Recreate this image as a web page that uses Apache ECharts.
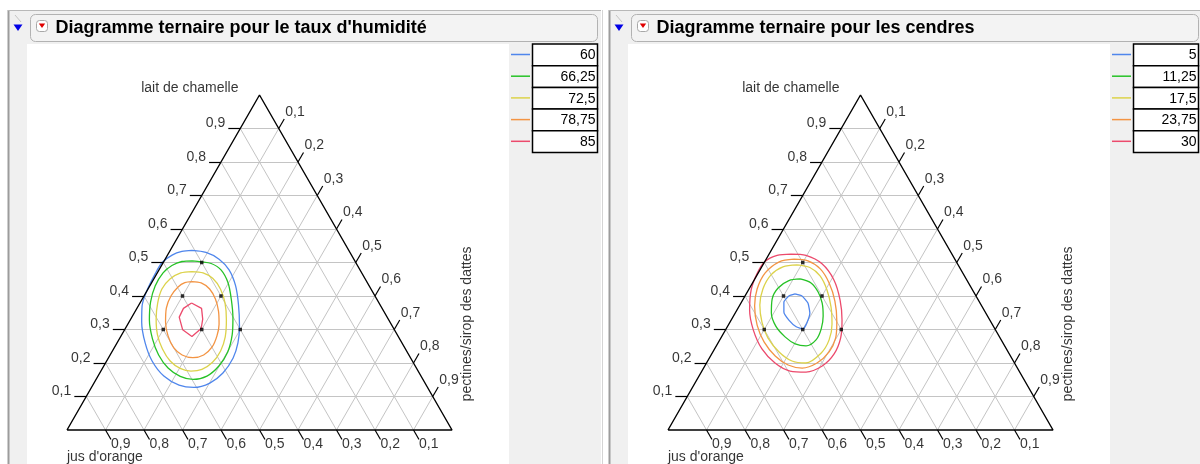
<!DOCTYPE html>
<html>
<head>
<meta charset="utf-8">
<script src="https://cdn.jsdelivr.net/npm/echarts@6/dist/echarts.min.js"></script>
<style>
  html, body { margin: 0; padding: 0; background: #ffffff; }
  #wrap { position: relative; width: 1200px; height: 464px; overflow: hidden; background: #ffffff; }
  .panel { position: absolute; top: 0; height: 464px; }
  #humidity { left: 0; width: 601px; }
  #ash { left: 601px; width: 599px; filter: blur(0.35px); }
</style>
</head>
<body>
<div id="wrap">
  <div id="humidity" class="panel"></div>
  <div id="ash" class="panel"></div>
</div>
<script>
// Ternary axes: every component runs 0..1, ticks every 0.1
const tickValues = [0.1, 0.2, 0.3, 0.4, 0.5, 0.6, 0.7, 0.8, 0.9];
const tickLabels = ['0,1', '0,2', '0,3', '0,4', '0,5', '0,6', '0,7', '0,8', '0,9'];
const topComponent = 'lait de chamelle';
const rightComponent = 'pectines/sirop des dattes';
const leftComponent = "jus d'orange";

// Mixture design points, [lait de chamelle, pectines/sirop] (jus = remainder)
const designPoints = [[0.5, 0.1], [0.4, 0.1], [0.4, 0.2], [0.3, 0.1], [0.3, 0.2], [0.3, 0.3]];

// Contour colours, lowest level first
const levelColors = ['#4f86ec', '#26c226', '#dcd24a', '#f39443', '#ec4a6c'];

// Moisture (taux d'humidité) panel
const humidityTitle = "Diagramme ternaire pour le taux d'humidité";
const humidityLevels = ['60', '66,25', '72,5', '78,75', '85'];
const humidity60 = [[0.536,0.057],[0.530,0.096],[0.510,0.140],[0.478,0.182],[0.430,0.223],[0.373,0.259],[0.310,0.293],[0.260,0.314],[0.215,0.324],[0.170,0.320],[0.140,0.301],[0.127,0.266],[0.134,0.224],[0.161,0.171],[0.206,0.118],[0.260,0.073],[0.322,0.033],[0.370,0.010],[0.412,0.000],[0.466,-0.004],[0.500,-0.003],[0.522,0.012],[0.533,0.032],[0.536,0.057]];
const humidity66 = [[0.505,0.073],[0.502,0.097],[0.497,0.126],[0.478,0.161],[0.439,0.199],[0.388,0.233],[0.334,0.264],[0.284,0.287],[0.233,0.301],[0.191,0.299],[0.161,0.283],[0.151,0.252],[0.160,0.214],[0.185,0.170],[0.224,0.126],[0.272,0.086],[0.328,0.050],[0.382,0.026],[0.430,0.014],[0.469,0.015],[0.491,0.027],[0.503,0.047],[0.505,0.073]];
const humidity72 = [[0.473,0.088],[0.469,0.119],[0.452,0.153],[0.421,0.188],[0.379,0.221],[0.328,0.250],[0.278,0.272],[0.236,0.281],[0.202,0.277],[0.181,0.260],[0.176,0.234],[0.184,0.202],[0.206,0.165],[0.242,0.127],[0.284,0.093],[0.331,0.066],[0.379,0.046],[0.421,0.036],[0.451,0.042],[0.469,0.061],[0.473,0.088]];
const humidity78 = [[0.443,0.103],[0.439,0.129],[0.421,0.160],[0.391,0.190],[0.355,0.216],[0.316,0.237],[0.281,0.249],[0.248,0.253],[0.224,0.243],[0.216,0.219],[0.224,0.187],[0.246,0.154],[0.281,0.122],[0.322,0.095],[0.364,0.076],[0.400,0.070],[0.427,0.075],[0.440,0.086],[0.443,0.103]];
const humidity85 = [[0.379,0.134],[0.363,0.168],[0.331,0.187],[0.303,0.197],[0.279,0.185],[0.299,0.151],[0.337,0.123],[0.363,0.121],[0.379,0.134]];

// Ash (cendres) panel
const ashTitle = 'Diagramme ternaire pour les cendres';
const ashLevels = ['5', '11,25', '17,5', '23,75', '30'];
const ash5 = [[0.406,0.127],[0.400,0.148],[0.379,0.174],[0.349,0.194],[0.319,0.201],[0.302,0.200],[0.308,0.179],[0.328,0.150],[0.352,0.125],[0.382,0.110],[0.400,0.114],[0.406,0.127]];
const ash11 = [[0.451,0.118],[0.439,0.152],[0.412,0.184],[0.379,0.211],[0.340,0.233],[0.302,0.247],[0.269,0.250],[0.251,0.233],[0.257,0.202],[0.278,0.165],[0.310,0.125],[0.349,0.094],[0.391,0.075],[0.424,0.074],[0.446,0.091],[0.451,0.118]];
const ash17 = [[0.493,0.089],[0.485,0.126],[0.460,0.165],[0.418,0.204],[0.367,0.240],[0.316,0.268],[0.269,0.284],[0.230,0.283],[0.200,0.258],[0.206,0.219],[0.233,0.172],[0.275,0.122],[0.322,0.083],[0.373,0.052],[0.421,0.036],[0.463,0.036],[0.487,0.055],[0.493,0.089]];
const ash23 = [[0.510,0.072],[0.505,0.111],[0.481,0.155],[0.439,0.199],[0.385,0.241],[0.325,0.276],[0.275,0.298],[0.233,0.302],[0.200,0.287],[0.185,0.256],[0.194,0.215],[0.221,0.168],[0.263,0.118],[0.313,0.075],[0.370,0.040],[0.421,0.021],[0.469,0.018],[0.502,0.038],[0.510,0.072]];
const ash30 = [[0.525,0.057],[0.521,0.098],[0.496,0.152],[0.448,0.207],[0.388,0.253],[0.328,0.288],[0.275,0.311],[0.227,0.318],[0.191,0.305],[0.173,0.272],[0.176,0.229],[0.200,0.178],[0.242,0.123],[0.299,0.072],[0.358,0.033],[0.418,0.007],[0.466,-0.002],[0.502,0.000],[0.521,0.023],[0.525,0.057]];

const FONT = "'Liberation Sans', Arial, sans-serif";

// [lait, pectines] -> plane coordinates of an equilateral triangle
// (x along the base, y = lait fraction)
function toXY(c) { return [c[1] + c[0] / 2, c[0]]; }

function buildPanel(el, title, levels, contours, smoothFlags, leftBorder) {
  const chart = echarts.init(el, null, { renderer: 'canvas' });

  // grid lines for the three components
  const gridLines = [];
  tickValues.forEach(function (t) {
    gridLines.push({ coords: [[t / 2, t], [1 - t / 2, t]] });              // lait = t
    gridLines.push({ coords: [[t, 0], [t + (1 - t) / 2, 1 - t]] });        // pectines = t
    gridLines.push({ coords: [[1 - t, 0], [(1 - t) / 2, 1 - t]] });        // jus = t
  });

  // short tick marks continuing the grid lines past the edges
  const tickLines = [];
  const laitLabels = [], pectLabels = [], jusLabels = [];
  tickValues.forEach(function (t, i) {
    const a = [t / 2, t], a2 = [t / 2 - 0.031, t];
    tickLines.push({ coords: [a, a2] });
    laitLabels.push({ value: a2, name: tickLabels[i] });
    const b = [0.5 + t / 2, 1 - t], b2 = [b[0] + 0.0143, b[1] + 0.0285];
    tickLines.push({ coords: [b, b2] });
    pectLabels.push({ value: b2, name: tickLabels[i] });
    const j = [1 - t, 0], j2 = [1 - t + 0.0143, -0.0285];
    tickLines.push({ coords: [j, j2] });
    jusLabels.push({ value: j2, name: tickLabels[i] });
  });

  function labelSeries(data, label) {
    return {
      type: 'scatter', data: data, symbolSize: 0.1, clip: false, silent: true, z: 6,
      itemStyle: { color: 'transparent' },
      label: Object.assign({
        show: true, formatter: '{b}', color: '#000', fontSize: 14, fontFamily: FONT
      }, label)
    };
  }

  const series = [
    { type: 'lines', coordinateSystem: 'cartesian2d', data: gridLines, clip: false, silent: true, z: 1,
      lineStyle: { color: '#c4c4c4', width: 1, opacity: 1 } },
    { type: 'line', data: [[0, 0], [0.5, 1], [1, 0], [0, 0]], symbol: 'none', clip: false, silent: true, z: 5,
      lineStyle: { color: '#000', width: 1.4 } },
    { type: 'lines', coordinateSystem: 'cartesian2d', data: tickLines, clip: false, silent: true, z: 5,
      lineStyle: { color: '#000', width: 1.2, opacity: 1 } },
    labelSeries(laitLabels, { position: 'left', distance: 3, offset: [0, -5] }),
    labelSeries(pectLabels, { position: 'right', distance: 1, offset: [0, -7] }),
    labelSeries(jusLabels, { position: 'right', distance: 0, offset: [0, 5] }),
    labelSeries([{ value: [0.5, 1], name: topComponent }], { position: 'left', distance: 21, offset: [0, -7] }),
    labelSeries([{ value: [0, 0], name: leftComponent }], { position: [0, 27], align: 'left', verticalAlign: 'middle' }),
    labelSeries([{ value: [1, 0], name: rightComponent }], { position: [15, -106], align: 'center', verticalAlign: 'middle', rotate: 90 })
  ];

  contours.forEach(function (pts, k) {
    series.push({
      type: 'line', data: pts.map(toXY), symbol: 'none', clip: false, silent: true, z: 4,
      smooth: smoothFlags[k], lineStyle: { color: levelColors[k], width: 1.3 }
    });
  });

  series.push({
    type: 'scatter', data: designPoints.map(toXY), symbol: 'rect', symbolSize: 3.5, clip: false, z: 7,
    itemStyle: { color: '#000' }
  });

  // panel chrome: frame, title bar, disclosure icons, contour key
  const g = [];
  g.push({ type: 'rect', shape: { x: 0, y: 0, width: 610, height: 464 }, style: { fill: '#ffffff' }, z: -20 });
  if (leftBorder) {
    g.push({ type: 'line', shape: { x1: 1.5, y1: 10, x2: 1.5, y2: 464 }, style: { stroke: '#d4d4d4', lineWidth: 1 }, z: -19 });
  }
  g.push({ type: 'rect', shape: { x: 8, y: 10, width: 610, height: 460 }, style: { fill: '#f0f0f0' }, z: -19 });
  g.push({ type: 'line', shape: { x1: 8.5, y1: 10, x2: 8.5, y2: 464 }, style: { stroke: '#9c9c9c', lineWidth: 2 }, z: -18 });
  g.push({ type: 'line', shape: { x1: 8, y1: 10.5, x2: 610, y2: 10.5 }, style: { stroke: '#b8b8b8', lineWidth: 1 }, z: -18 });
  g.push({ type: 'rect', shape: { x: 27, y: 44, width: 482, height: 430 }, style: { fill: '#ffffff' }, z: -17 });
  g.push({ type: 'rect', shape: { x: 30.5, y: 14.5, width: 567, height: 27, r: 5 },
    style: { fill: '#f3f3f3', stroke: '#b2b2b2', lineWidth: 1 }, z: -16 });
  g.push({ type: 'line', shape: { x1: 15, y1: 15, x2: 21, y2: 22 }, style: { stroke: '#c4c4c4', lineWidth: 1 }, z: -15 });
  g.push({ type: 'polygon', shape: { points: [[13.5, 24.5], [22.5, 24.5], [18, 31]] }, style: { fill: '#0000e6' }, z: -15 });
  g.push({ type: 'rect', shape: { x: 36.5, y: 20.5, width: 11, height: 11, r: 3 },
    style: { fill: '#ffffff', stroke: '#a8a8a8', lineWidth: 1 }, z: -15 });
  g.push({ type: 'polygon', shape: { points: [[38.8, 23.5], [45.2, 23.5], [42, 28]] }, style: { fill: '#e00000' }, z: -15 });
  g.push({ type: 'text', x: 55.5, y: 28.5, z: -14,
    style: { text: title, fill: '#000', font: 'bold 18px ' + FONT, verticalAlign: 'middle', align: 'left' } });

  levels.forEach(function (lv, i) {
    const top = 44 + i * 21.7;
    g.push({ type: 'line', shape: { x1: 511, y1: top + 10.5, x2: 530, y2: top + 10.5 },
      style: { stroke: levelColors[i], lineWidth: 1.5 }, z: 20 });
    g.push({ type: 'rect', shape: { x: 532.5, y: top, width: 65, height: 21.7 },
      style: { fill: '#ffffff', stroke: '#000', lineWidth: 1.5 }, z: 20 });
    g.push({ type: 'text', x: 595.5, y: top + 11.5, z: 21,
      style: { text: lv, fill: '#000', font: '14px ' + FONT, align: 'right', verticalAlign: 'middle' } });
  });

  chart.setOption({
    animation: false,
    grid: { left: 67, top: 95, width: 385, height: 335, outerBoundsMode: 'none' },
    xAxis: { type: 'value', min: 0, max: 1, show: false },
    yAxis: { type: 'value', min: 0, max: 1, show: false },
    graphic: { elements: g },
    series: series
  });
  return chart;
}

buildPanel(document.getElementById('humidity'), humidityTitle, humidityLevels,
  [humidity60, humidity66, humidity72, humidity78, humidity85],
  [0.3, 0.3, 0.3, 0.3, false], false);

buildPanel(document.getElementById('ash'), ashTitle, ashLevels,
  [ash5, ash11, ash17, ash23, ash30],
  [0.15, 0.3, 0.3, 0.3, 0.3], true);
</script>
</body>
</html>
